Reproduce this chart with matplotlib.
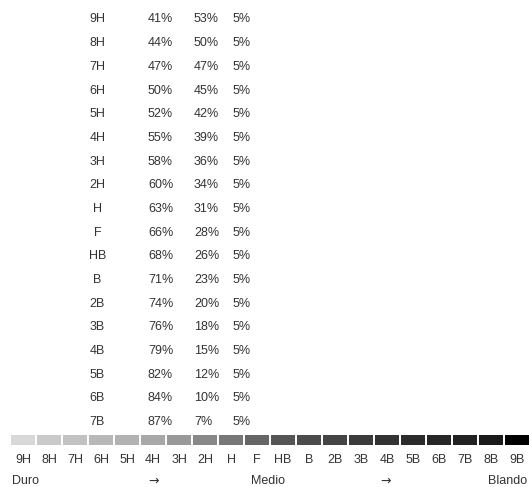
import matplotlib
matplotlib.use("Agg")
import matplotlib.pyplot as plt
import numpy as np

plt.rcParams['font.family'] = ['Liberation Sans', 'DejaVu Sans']

# Table data (top to bottom)
table_grades = ["9H", "8H", "7H", "6H", "5H", "4H", "3H", "2H", "H", "F", "HB",
                "B", "2B", "3B", "4B", "5B", "6B", "7B"]
graphite = [41, 44, 47, 50, 52, 55, 58, 60, 63, 66, 68, 71, 74, 76, 79, 82, 84, 87]
clay = [53, 50, 47, 45, 42, 39, 36, 34, 31, 28, 26, 23, 20, 18, 15, 12, 10, 7]
wax = [5] * 18

# Scale data
scale_grades = ["9H", "8H", "7H", "6H", "5H", "4H", "3H", "2H", "H", "F", "HB",
                "B", "2B", "3B", "4B", "5B", "6B", "7B", "8B", "9B"]
scale_colors = ["#d8d8d8", "#c9c9c9", "#c2c2c2", "#b8b8b8", "#b2b2b2", "#a8a8a8",
                "#999999", "#888888", "#777777", "#666666", "#555555", "#4b4b4b",
                "#444444", "#3b3b3b", "#333333", "#2b2b2b", "#262626", "#222222",
                "#1a1a1a", "#000000"]
hardness_labels = ["Duro", "\u2192", "Medio", "\u2192", "Blando"]

W, H = 529, 487
fig = plt.figure(figsize=(W / 100, H / 100), dpi=100)
ax = fig.add_axes([0, 0, 1, 1])
ax.set_xlim(0, W)
ax.set_ylim(H, 0)
ax.axis("off")

txt = "#333333"
fs = 9

# Table rows
row_y0, row_step = 19.5, 23.67
for i, g in enumerate(table_grades):
    y = row_y0 + i * row_step
    ax.text(97.5, y, g, ha="center", va="center", fontsize=fs, color=txt)
    ax.text(148, y, f"{graphite[i]}%", ha="left", va="center", fontsize=fs, color=txt)
    ax.text(194, y, f"{clay[i]}%", ha="left", va="center", fontsize=fs, color=txt)
    ax.text(233, y, f"{wax[i]}%", ha="left", va="center", fontsize=fs, color=txt)

# Scale swatches
x0, pitch, sw = 11, 26.0, 24
idx = np.arange(len(scale_grades))
lefts = x0 + idx * pitch
ax.bar(lefts, 9.5, width=sw, bottom=435, align="edge", color=scale_colors,
       edgecolor="none")
for i, g in enumerate(scale_grades):
    ax.text(lefts[i] + sw / 2, 460, g, ha="center", va="center", fontsize=fs, color=txt)

# Hardness labels
hx = [12, 154, 268, 386, 527]
has = ["left", "center", "center", "center", "right"]
for x, t, ha in zip(hx, hardness_labels, has):
    if t == "\u2192":
        ax.text(x, 481, t, ha=ha, va="center", fontsize=fs, color=txt,
                family=["DejaVu Sans"])
    else:
        ax.text(x, 481.5, t, ha=ha, va="center", fontsize=fs, color=txt)

fig.savefig("out.png", dpi=100)
